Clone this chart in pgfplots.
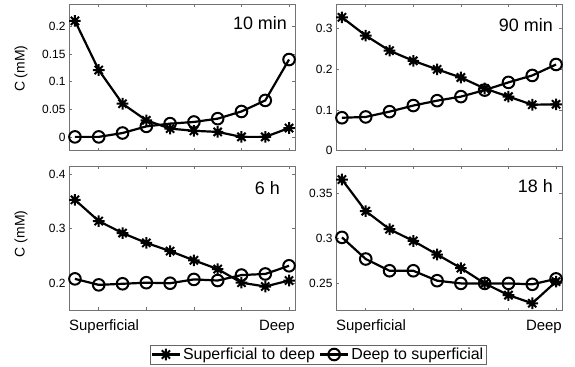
\documentclass[border=0pt]{standalone}
\usepackage{fontspec}
\setmainfont{Liberation Sans}
\usepackage{pgfplots}
\pgfplotsset{compat=1.18}

\pgfdeclareplotmark{mstar}{%
  \pgfpathmoveto{\pgfpoint{-\pgfplotmarksize}{0pt}}\pgfpathlineto{\pgfpoint{\pgfplotmarksize}{0pt}}%
  \pgfpathmoveto{\pgfpoint{0pt}{-\pgfplotmarksize}}\pgfpathlineto{\pgfpoint{0pt}{\pgfplotmarksize}}%
  \pgfpathmoveto{\pgfpoint{-0.707\pgfplotmarksize}{-0.707\pgfplotmarksize}}\pgfpathlineto{\pgfpoint{0.707\pgfplotmarksize}{0.707\pgfplotmarksize}}%
  \pgfpathmoveto{\pgfpoint{-0.707\pgfplotmarksize}{0.707\pgfplotmarksize}}\pgfpathlineto{\pgfpoint{0.707\pgfplotmarksize}{-0.707\pgfplotmarksize}}%
  \pgfusepathqstroke}

\tikzset{
  ttl/.style={anchor=east, inner sep=0pt, font=\fontsize{18}{20}\selectfont},
  btm/.style={inner sep=0pt, font=\fontsize{15}{17}\selectfont},
  ylab/.style={rotate=90, anchor=center, inner sep=0pt, font=\fontsize{14}{16}\selectfont},
}

\pgfplotsset{
  panel/.style={
    scale only axis, width=226bp, anchor=south west,
    xmin=0.75, xmax=10.25, xtick={2,4,6,8,10}, xticklabels={},
    tick align=inside, major tick length=3bp,
    axis line style={black!55, line width=0.6bp},
    every tick/.style={black!55, line width=0.6bp},
    tick label style={font=\fontsize{12}{14}\selectfont},
    /pgf/number format/assume math mode=true,
    yticklabel style={/pgf/number format/fixed, /pgf/number format/precision=2},
    clip=false,
  },
  sd/.style={black, line width=2.2bp, mark=mstar, mark size=5.8bp, mark options={solid, line width=2bp}},
  ds/.style={black, line width=2.2bp, mark=o, mark size=5.8bp, mark options={solid, line width=2bp}},
}

\begin{document}
\begin{tikzpicture}
\path (0,0) rectangle (575bp,367bp);

% 10 min
\begin{axis}[panel, at={(69bp,216.3bp)}, height=146.4bp,
  ymin=-0.025, ymax=0.24, ytick={0,0.05,0.1,0.15,0.2}]
\addplot[sd] coordinates {(1,0.210)(2,0.121)(3,0.060)(4,0.030)(5,0.015)(6,0.011)(7,0.009)(8,0.0)(9,0.0)(10,0.016)};
\addplot[ds] coordinates {(1,0.0)(2,0.0)(3,0.007)(4,0.019)(5,0.024)(6,0.027)(7,0.033)(8,0.046)(9,0.066)(10,0.140)};
\node[ttl] at (rel axis cs:0.965,0.872) {10 min};
\node[ylab] at (rel axis cs:-0.2124,0.56) {C (mM)};
\end{axis}

% 90 min
\begin{axis}[panel, at={(336bp,216.3bp)}, height=146.4bp,
  ymin=0, ymax=0.36, ytick={0,0.1,0.2,0.3}]
\addplot[sd] coordinates {(1,0.328)(2,0.283)(3,0.246)(4,0.221)(5,0.200)(6,0.180)(7,0.153)(8,0.133)(9,0.113)(10,0.114)};
\addplot[ds] coordinates {(1,0.081)(2,0.083)(3,0.096)(4,0.111)(5,0.123)(6,0.133)(7,0.149)(8,0.168)(9,0.185)(10,0.212)};
\node[ttl] at (rel axis cs:0.960,0.859) {90 min};
\end{axis}

% 6 h
\begin{axis}[panel, at={(69bp,56.5bp)}, height=144.5bp,
  ymin=0.15, ymax=0.415, ytick={0.2,0.3,0.4},
  legend columns=2,
  legend style={at={(1.102,-0.3045)}, anchor=center, draw=black!60, line width=0.6bp,
    font=\fontsize{16}{18}\selectfont, inner sep=1bp, row sep=0pt,
    /tikz/every even column/.append style={column sep=2bp}},
  legend image code/.code={\draw[mark repeat=2, mark phase=2, #1] plot coordinates {(0bp,0bp) (14bp,0bp) (28bp,0bp)};}]
\addplot[sd] coordinates {(1,0.353)(2,0.314)(3,0.292)(4,0.274)(5,0.259)(6,0.242)(7,0.226)(8,0.201)(9,0.194)(10,0.205)};
\addplot[ds] coordinates {(1,0.208)(2,0.197)(3,0.199)(4,0.201)(5,0.200)(6,0.207)(7,0.205)(8,0.215)(9,0.217)(10,0.232)};
\legend{Superficial to deep, Deep to superficial}
\node[ttl] at (rel axis cs:0.934,0.848) {6 h};
\node[btm, anchor=base west] at (rel axis cs:0,0) [yshift=-20bp] {Superficial};
\node[btm, anchor=base east] at (rel axis cs:1,0) [yshift=-20bp] {Deep};
\node[ylab] at (rel axis cs:-0.2124,0.53) {C (mM)};
\end{axis}

% 18 h
\begin{axis}[panel, at={(336bp,56.5bp)}, height=144.5bp,
  ymin=0.22, ymax=0.38, ytick={0.25,0.3,0.35}]
\addplot[sd] coordinates {(1,0.365)(2,0.330)(3,0.310)(4,0.297)(5,0.282)(6,0.267)(7,0.250)(8,0.237)(9,0.228)(10,0.252)};
\addplot[ds] coordinates {(1,0.301)(2,0.277)(3,0.264)(4,0.264)(5,0.253)(6,0.250)(7,0.250)(8,0.250)(9,0.249)(10,0.255)};
\node[ttl] at (rel axis cs:0.960,0.862) {18 h};
\node[btm, anchor=base west] at (rel axis cs:0,0) [yshift=-20bp] {Superficial};
\node[btm, anchor=base east] at (rel axis cs:1,0) [yshift=-20bp] {Deep};
\end{axis}
\end{tikzpicture}
\end{document}
